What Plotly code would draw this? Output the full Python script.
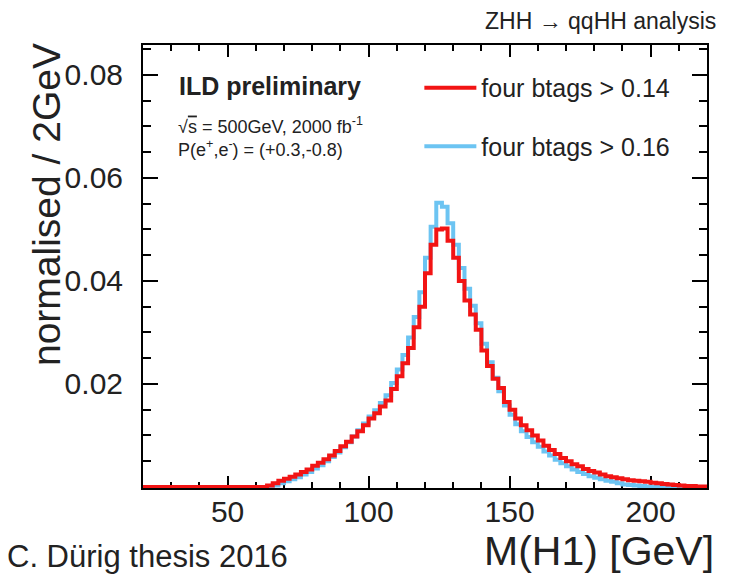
import numpy as np
import plotly.graph_objects as go

# M(H1) histogram: 2 GeV bins from 20 to 220 GeV, normalised to unit area
bin_lo, bin_hi, bin_w = 20, 220, 2
edges = np.arange(bin_lo, bin_hi + bin_w, bin_w)

# four btags > 0.14 (bins 20..62 empty, values from bin starting at 64 GeV)
btag014 = [0.0] * 22 + [
    0.0003, 0.0007, 0.0012, 0.0016, 0.0020, 0.0024, 0.0029, 0.0034,
    0.0041, 0.0047, 0.0054, 0.0061, 0.0070, 0.0079, 0.0088, 0.0098, 0.0108, 0.0120,
    0.0133, 0.0143, 0.0156, 0.0168, 0.0190, 0.0215, 0.0240, 0.0270, 0.0310, 0.0350,
    0.0415, 0.0470, 0.0500, 0.0502, 0.0478, 0.0445, 0.0400, 0.0362, 0.0335, 0.0305,
    0.0265, 0.0235, 0.0210, 0.0192, 0.0165, 0.0150, 0.0133, 0.0120, 0.0110, 0.0100,
    0.0090, 0.0080, 0.0072, 0.0064, 0.0056, 0.0050, 0.0044, 0.0040, 0.0035, 0.0031,
    0.0028, 0.0024, 0.0021, 0.0019, 0.0017, 0.0015, 0.0013, 0.0012, 0.0011, 0.0010,
    0.0008, 0.0007, 0.0006, 0.0005, 0.0004, 0.0003, 0.0002, 0.0002, 0.0001, 0.0001,
]

# four btags > 0.16
btag016 = [0.0] * 22 + [
    0.0001, 0.0003, 0.0007, 0.0011, 0.0015, 0.0019, 0.0024, 0.0029,
    0.0036, 0.0042, 0.0050, 0.0058, 0.0067, 0.0077, 0.0087, 0.0098, 0.0110, 0.0123,
    0.0137, 0.0149, 0.0163, 0.0178, 0.0202, 0.0228, 0.0256, 0.0290, 0.0330, 0.0378,
    0.0445, 0.0505, 0.0552, 0.0544, 0.0512, 0.0470, 0.0425, 0.0385, 0.0352, 0.0318,
    0.0278, 0.0242, 0.0212, 0.0186, 0.0158, 0.0140, 0.0122, 0.0108, 0.0097, 0.0087,
    0.0078, 0.0069, 0.0061, 0.0053, 0.0046, 0.0040, 0.0034, 0.0029, 0.0025, 0.0021,
    0.0018, 0.0015, 0.0012, 0.0010, 0.0007, 0.0005, 0.0004, 0.0003, 0.0002, 0.0001,
] + [0.0] * 10

x_ticks = [50, 100, 150, 200]
y_ticks = [0.02, 0.04, 0.06, 0.08]
y_tick_text = ["0.02", "0.04", "0.06", "0.08"]

FONT = "Liberation Sans, Arial, Helvetica, sans-serif"
RED = "#f21414"
BLUE = "#6cc4f2"
INK = "#222222"


def step_y(vals):
    # repeat the last bin so the 'hv' step closes at the upper edge
    return list(vals) + [vals[-1]]


fig = go.Figure()
fig.add_trace(go.Scatter(
    x=edges, y=step_y(btag016), mode="lines", line=dict(shape="hv", color=BLUE, width=4),
    name="four btags > 0.16", legendgroup="b", legendrank=2, hoverinfo="skip",
))
fig.add_trace(go.Scatter(
    x=edges, y=step_y(btag014), mode="lines", line=dict(shape="hv", color=RED, width=4),
    name="four btags > 0.14", legendgroup="a", legendrank=1, hoverinfo="skip",
))

axis_common = dict(
    showline=True, linecolor="black", linewidth=2, mirror="allticks",
    ticks="inside", tickcolor="black", tickwidth=2,
    showgrid=False, zeroline=False, layer="below traces",
    tickfont=dict(family=FONT, size=30, color=INK),
)

fig.update_layout(
    width=740, height=575,
    margin=dict(l=143, r=33, t=45, b=87),
    paper_bgcolor="white", plot_bgcolor="white",
    xaxis=dict(
        range=[bin_lo, bin_hi], tickmode="array", tickvals=x_ticks, ticklen=12,
        ticklabelstandoff=-4,
        minor=dict(tickmode="linear", tick0=0, dtick=10, ticklen=6, ticks="inside",
                   tickcolor="black", tickwidth=2),
        **axis_common,
    ),
    yaxis=dict(
        range=[-0.0002, 0.0858], tickmode="array", tickvals=y_ticks, ticktext=y_tick_text,
        ticklen=15, ticklabelstandoff=12,
        minor=dict(tickmode="linear", tick0=0, dtick=0.005, ticklen=8, ticks="inside",
                   tickcolor="black", tickwidth=2),
        **axis_common,
    ),
    showlegend=True,
    legend=dict(
        x=0.49, y=0.955, xanchor="left", yanchor="top",
        font=dict(family=FONT, size=25, color=INK),
        bgcolor="rgba(0,0,0,0)", tracegroupgap=23, itemwidth=52,
    ),
)

annotations = [
    dict(text="normalised / 2GeV", x=-0.170, y=0.639, textangle=-90, xanchor="center",
         font=dict(family=FONT, size=39, color=INK)),
    dict(text="M(H1) [GeV]", x=1.016, y=-0.143, xanchor="right",
         font=dict(family=FONT, size=41, color=INK)),
    dict(text="C. Dürig thesis 2016", x=-0.245, y=-0.154, xanchor="left",
         font=dict(family=FONT, size=31, color=INK)),
    dict(text="ZHH → qqHH analysis", x=1.020, y=1.054, xanchor="right",
         font=dict(family=FONT, size=23, color=INK)),
    dict(text="<b>ILD preliminary</b>", x=0.060, y=0.907, xanchor="left",
         font=dict(family=FONT, size=25, color=INK)),
    dict(text="√<span style='text-decoration:overline'>s</span> = 500GeV, 2000 fb<sup>-1</sup>"
              "<br>P(e<sup>+</sup>,e<sup>-</sup>) = (+0.3,-0.8)",
         x=0.058, y=0.792, xanchor="left", align="left",
         font=dict(family=FONT, size=18, color=INK)),
]
for a in annotations:
    a.update(xref="paper", yref="paper", showarrow=False, yanchor="middle")
    fig.add_annotation(**a)

fig.write_html("out.html")
